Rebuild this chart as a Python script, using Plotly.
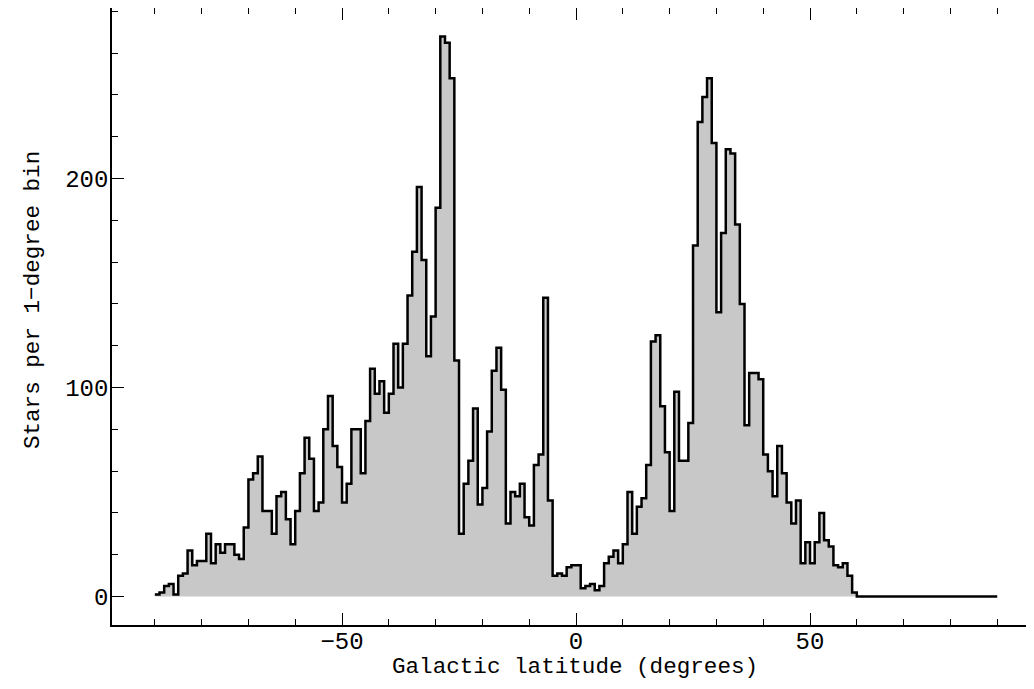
import plotly.graph_objects as go

# 1-degree bins, left edges from -90 to 89
bin_left = list(range(-90, 90))

counts = [
    # -90 .. -81
    1, 2, 5, 6, 1, 10, 11, 22, 15, 17,
    # -80 .. -71
    17, 30, 16, 25, 21, 25, 25, 20, 18, 33,
    # -70 .. -61
    56, 59, 67, 41, 41, 30, 48, 50, 37, 25,
    # -60 .. -51
    41, 59, 76, 66, 41, 45, 80, 96, 72, 62,
    # -50 .. -41
    45, 54, 80, 80, 59, 84, 109, 97, 103, 88,
    # -40 .. -31
    97, 121, 100, 121, 144, 165, 196, 161, 115, 134,
    # -30 .. -21
    186, 268, 265, 248, 113, 30, 54, 65, 90, 44,
    # -20 .. -11
    52, 79, 108, 119, 99, 35, 50, 48, 54, 38,
    # -10 .. -1
    34, 63, 68, 143, 46, 10, 11, 10, 14, 15,
    # 0 .. 9
    15, 4, 5, 6, 3, 5, 16, 19, 22, 16,
    # 10 .. 19
    25, 50, 30, 43, 47, 63, 122, 125, 91, 69,
    # 20 .. 29
    41, 98, 65, 65, 83, 168, 227, 239, 248, 217,
    # 30 .. 39
    136, 174, 214, 212, 178, 140, 82, 107, 107, 104,
    # 40 .. 49
    68, 60, 48, 72, 59, 45, 35, 46, 16, 26,
    # 50 .. 59
    16, 26, 40, 27, 24, 15, 14, 16, 10, 2,
    # 60 .. 89
    0, 0, 0, 0, 0, 0, 0, 0, 0, 0,
    0, 0, 0, 0, 0, 0, 0, 0, 0, 0,
    0, 0, 0, 0, 0, 0, 0, 0, 0, 0,
]

x_ticks = [-50, 0, 50]
x_tick_text = ["\u221250", "0", "50"]
y_ticks = [0, 100, 200]
y_tick_text = ["0", "100", "200"]

x_title = "Galactic latitude (degrees)"
y_title = "Stars per 1\u2212degree bin"

bin_width = 1
x_edges = bin_left + [bin_left[-1] + bin_width]
y_steps = counts + [counts[-1]]

FONT = "Liberation Mono"

fig = go.Figure()
fig.add_trace(go.Scatter(
    x=x_edges, y=y_steps,
    mode="lines",
    line=dict(shape="hv", color="black", width=2.5),
    fill="tozeroy",
    fillcolor="#c8c8c8",
    hoverinfo="skip",
))

axis_common = dict(
    showgrid=False, zeroline=False,
    showline=True, linecolor="black", linewidth=1.5,
    ticks="inside", ticklen=12, tickwidth=1.2, tickcolor="black",
    tickfont=dict(family=FONT, size=24, color="black"),
)

fig.update_xaxes(
    range=[-99.15, 96.15],
    mirror="ticks",
    tickmode="array", tickvals=x_ticks, ticktext=x_tick_text,
    ticklabelstandoff=-7,
    minor=dict(ticks="inside", ticklen=6, dtick=10, tick0=0,
               tickcolor="black", tickwidth=1.2, showgrid=False),
    **axis_common,
)
fig.update_yaxes(
    range=[-13.6, 281.6],
    mirror=False,
    tickmode="array", tickvals=y_ticks, ticktext=y_tick_text,
    ticklabelstandoff=-3,
    minor=dict(ticks="inside", ticklen=6, dtick=20, tick0=0,
               tickcolor="black", tickwidth=1.2, showgrid=False),
    **axis_common,
)

fig.add_annotation(
    text=x_title, xref="paper", yref="paper",
    x=0.5066, y=-0.068, xanchor="center", yanchor="middle",
    showarrow=False, font=dict(family=FONT, size=22.6, color="black"),
)
fig.add_annotation(
    text=y_title, xref="paper", yref="paper",
    x=-0.0864, y=0.5267, xanchor="center", yanchor="middle",
    textangle=-90,
    showarrow=False, font=dict(family=FONT, size=22.6, color="black"),
)

fig.update_layout(
    width=1018, height=673,
    margin=dict(l=104, r=0, t=0, b=56, autoexpand=False),
    paper_bgcolor="white", plot_bgcolor="white",
    showlegend=False,
)

fig.write_html("out.html")
